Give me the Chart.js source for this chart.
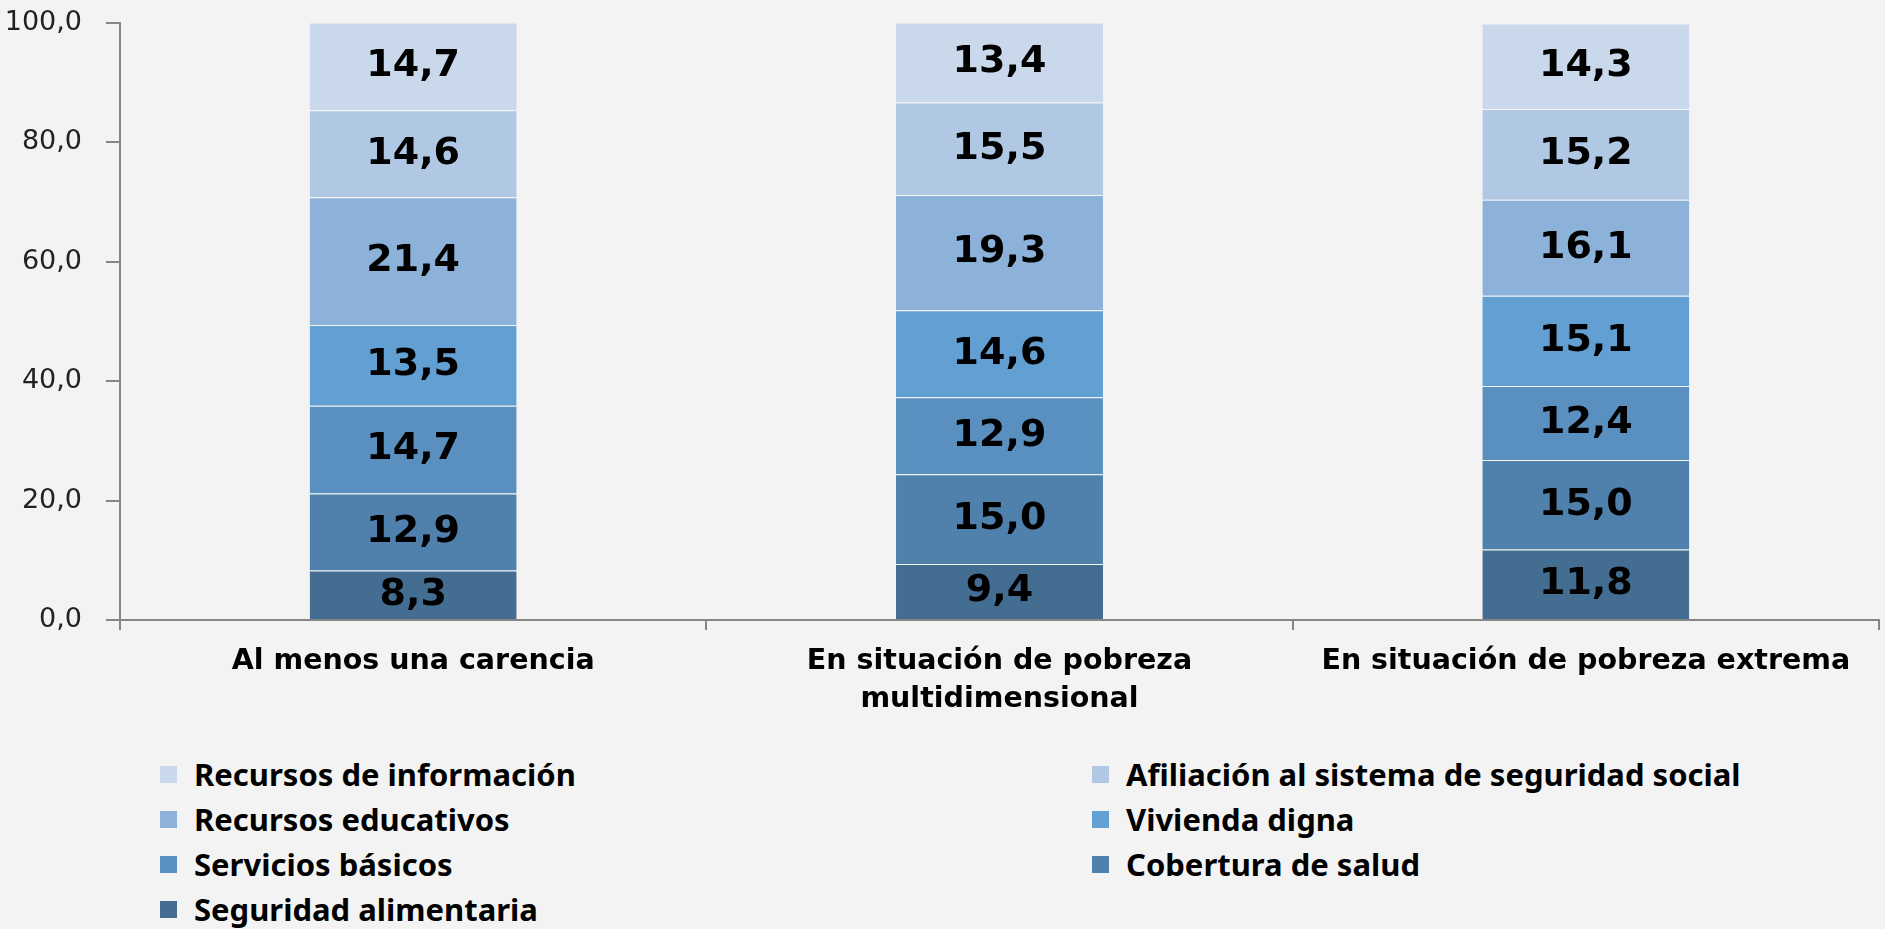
<!DOCTYPE html>
<html>
<head>
<meta charset="utf-8">
<script src="https://cdn.jsdelivr.net/npm/chart.js@4/dist/chart.umd.min.js"></script>
<style>
  html, body { margin: 0; padding: 0; background: #f3f3f3; }
  #wrap { position: absolute; left: 0; top: 0; width: 1885px; height: 740px; }
  #legend {
    position: absolute; left: 160px; top: 756px;
    display: grid; grid-template-columns: 932px 760px; row-gap: 9px;
    font-family: 'Noto Sans', sans-serif; font-weight: bold; font-size: 31px; color: #000;
  }
  .item { display: flex; align-items: center; height: 36px; }
  .box { width: 17px; height: 17px; margin-right: 17px; }
</style>
</head>
<body>
<div id="wrap"><canvas id="chart"></canvas></div>
<div id="legend"></div>
<script>
const categories = [
  'Al menos una carencia',
  ['En situación de pobreza', 'multidimensional'],
  'En situación de pobreza extrema'
];
const yTicks = [0, 20, 40, 60, 80, 100];

// series, bottom to top of the stack
const seguridadAlimentaria = [8.3, 9.4, 11.8];
const coberturaSalud = [12.9, 15.0, 15.0];
const serviciosBasicos = [14.7, 12.9, 12.4];
const viviendaDigna = [13.5, 14.6, 15.1];
const recursosEducativos = [21.4, 19.3, 16.1];
const afiliacionSeguridad = [14.6, 15.5, 15.2];
const recursosInformacion = [14.7, 13.4, 14.3];

const series = [
  { label: 'Seguridad alimentaria', data: seguridadAlimentaria, color: '#446d92' },
  { label: 'Cobertura de salud', data: coberturaSalud, color: '#5080ac' },
  { label: 'Servicios básicos', data: serviciosBasicos, color: '#5a90c0' },
  { label: 'Vivienda digna', data: viviendaDigna, color: '#629fd2' },
  { label: 'Recursos educativos', data: recursosEducativos, color: '#8db2da' },
  { label: 'Afiliación al sistema de seguridad social', data: afiliacionSeguridad, color: '#b1c8e4' },
  { label: 'Recursos de información', data: recursosInformacion, color: '#c9d8ea' }
];

const fmt = v => v.toFixed(1).replace('.', ',');

// draws the value inside each bar segment
const segmentLabels = {
  id: 'segmentLabels',
  afterDatasetsDraw(chart) {
    const ctx = chart.ctx;
    ctx.save();
    ctx.font = "bold 38px 'DejaVu Sans', sans-serif";
    ctx.fillStyle = '#000';
    ctx.textAlign = 'center';
    ctx.textBaseline = 'middle';
    chart.data.datasets.forEach((ds, i) => {
      chart.getDatasetMeta(i).data.forEach((bar, j) => {
        const y = (bar.y + bar.base) / 2;
        ctx.fillText(fmt(ds.data[j]), bar.x, y);
      });
    });
    ctx.restore();
  }
};

const axisColor = '#868686';

new Chart(document.getElementById('chart'), {
  type: 'bar',
  data: {
    labels: categories,
    datasets: series.map(s => ({
      label: s.label,
      data: s.data,
      backgroundColor: s.color,
      borderColor: 'rgba(255,255,255,0.35)',
      borderWidth: { top: 1 },
      borderSkipped: false,
      categoryPercentage: 1,
      barPercentage: 0.353
    }))
  },
  options: {
    responsive: true,
    maintainAspectRatio: false,
    animation: false,
    layout: { padding: { left: 0, top: 23, right: 6, bottom: 0 } },
    plugins: {
      legend: { display: false },
      tooltip: { enabled: false }
    },
    scales: {
      x: {
        stacked: true,
        afterFit(scale) { scale.height = 120; },
        grid: { offset: true, drawOnChartArea: false, tickLength: 10, color: axisColor, lineWidth: 2 },
        border: { color: axisColor, width: 2 },
        ticks: {
          color: '#000',
          padding: 12,
          maxRotation: 0,
          font: { family: "'DejaVu Sans', sans-serif", size: 28.5, weight: 'bold', lineHeight: 1.35 }
        }
      },
      y: {
        stacked: true,
        min: 0,
        max: 100,
        afterFit(scale) {
          scale.width = 120;
          scale.paddingTop = 0;
          scale.paddingBottom = 0;
        },
        afterBuildTicks(scale) { scale.ticks = yTicks.map(v => ({ value: v })); },
        grid: { drawOnChartArea: false, tickLength: 14, color: axisColor, lineWidth: 2 },
        border: { color: axisColor, width: 2 },
        ticks: {
          color: '#222',
          padding: 24,
          font: { family: "'DejaVu Sans', sans-serif", size: 27 },
          callback: v => fmt(v)
        }
      }
    }
  },
  plugins: [segmentLabels]
});

// legend: Excel order, top series first, two columns
const legend = document.getElementById('legend');
series.slice().reverse().forEach(s => {
  const item = document.createElement('div');
  item.className = 'item';
  const box = document.createElement('span');
  box.className = 'box';
  box.style.background = s.color;
  const txt = document.createElement('span');
  txt.textContent = s.label;
  item.appendChild(box);
  item.appendChild(txt);
  legend.appendChild(item);
});
</script>
</body>
</html>
